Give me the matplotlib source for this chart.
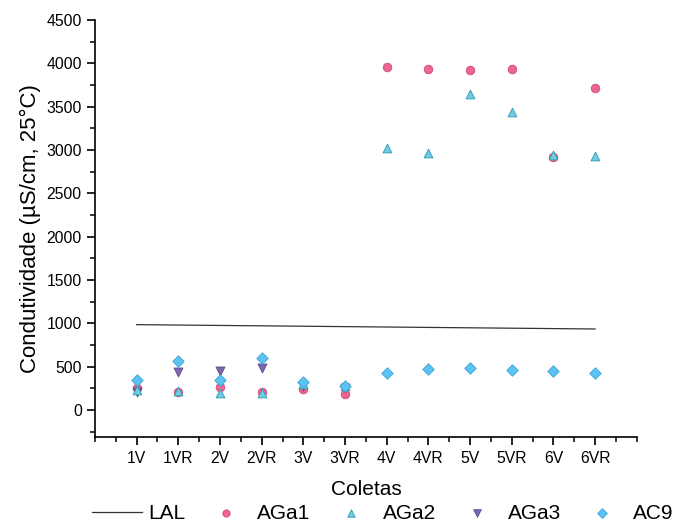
import matplotlib
matplotlib.use("Agg")
import matplotlib.pyplot as plt
from matplotlib.ticker import MultipleLocator

plt.rcParams['font.family'] = ['Liberation Sans', 'DejaVu Sans']

coletas = ["1V", "1VR", "2V", "2VR", "3V", "3VR", "4V", "4VR", "5V", "5VR", "6V", "6VR"]

# condutividade por amostra (uS/cm a 25 C)
aga1 = [250, 210, 270, 210, 240, 190, 3960, 3930, 3925, 3930, 2920, 3715]
aga2 = [230, 215, 200, 200, 300, 280, 3020, 2965, 3645, 3435, 2945, 2930]
aga3 = [210, 440, 450, 490, 280, 250]
ac9 = [345, 560, 345, 600, 325, 280, 430, 475, 480, 465, 445, 430]

# limite (LAL) nas extremidades
lal_x = ["1V", "6VR"]
lal_y = [985, 935]

pos = {c: i + 1 for i, c in enumerate(coletas)}
x = [pos[c] for c in coletas]

fig = plt.figure(figsize=(6.76, 5.27), dpi=100)
ax = fig.add_axes([0.1405, 0.171, 0.8015, 0.791])

ax.plot([pos[c] for c in lal_x], lal_y, color="#333333", lw=0.9, label="LAL")
ax.scatter(x, aga1, marker="o", s=38, color="#ec6690", edgecolors="#cf4a74",
           linewidths=0.6, label="AGa1", zorder=3)
ax.scatter(x, aga2, marker="^", s=40, color="#6fcbe6", edgecolors="#2e9aa8",
           linewidths=0.6, label="AGa2", zorder=4)
ax.scatter(x[:len(aga3)], aga3, marker="v", s=42, color="#7e66ae", edgecolors="#5d4a8c",
           linewidths=0.6, label="AGa3", zorder=3)
ax.scatter(x, ac9, marker="D", s=34, color="#5cc3f2", edgecolors="#3aa3d8",
           linewidths=0.6, label="AC9", zorder=5)

ax.set_xlim(0, 13)
ax.set_ylim(-310, 4500)
ax.set_xticks(x)
ax.set_xticklabels(coletas)
ax.xaxis.set_minor_locator(MultipleLocator(0.5))
ax.yaxis.set_major_locator(MultipleLocator(500))
ax.yaxis.set_minor_locator(MultipleLocator(250))

for side in ("top", "right"):
    ax.spines[side].set_visible(False)
for side in ("left", "bottom"):
    ax.spines[side].set_linewidth(1.2)

ax.tick_params(axis="both", which="major", direction="out", length=6, width=1.2,
               labelsize=11.3)
ax.tick_params(axis="both", which="minor", direction="out", length=3.5, width=1.1)
ax.tick_params(axis="x", pad=4)

ax.set_xlabel("Coletas", fontsize=15, labelpad=10)
ax.set_ylabel("Condutividade (\u00b5S/cm, 25\u00b0C)", fontsize=16, labelpad=4)

fig.legend(loc="center left", bbox_to_anchor=(0.108, 0.026), ncol=5, frameon=False,
           fontsize=15, handlelength=2.4, columnspacing=0.76, handletextpad=0.3,
           markerscale=0.85)

fig.savefig("out.png", dpi=100)
